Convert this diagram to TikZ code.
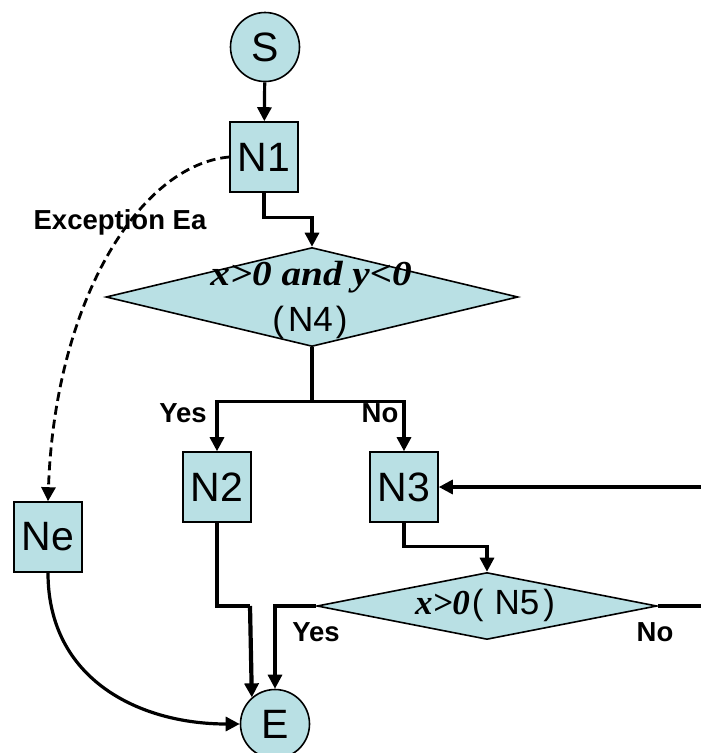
\documentclass[tikz,border=0pt]{standalone}
\usepackage{fontspec}
\usepackage{graphicx}
\setmainfont{Liberation Sans}
\newfontfamily\tnr{Liberation Serif}
\usetikzlibrary{shapes.geometric,arrows.meta,calc}
\definecolor{fillc}{RGB}{185,224,228}
\begin{document}
\begin{tikzpicture}[x=1pt,y=-1pt,
  box/.style={draw,fill=fillc,line width=1.6pt,minimum width=68pt,minimum height=70pt,inner sep=0pt,font=\fontsize{41}{43}\selectfont},
  circ/.style={circle,draw,fill=fillc,line width=1.6pt,minimum size=69pt,inner sep=0pt,font=\fontsize{41}{43}\selectfont},
  dia/.style={diamond,draw,fill=fillc,line width=1.6pt,inner sep=0pt},
  conn/.style={line width=3.2pt},
  arr/.style={conn,-{Triangle[length=14pt,width=14pt]}},
  lbl/.style={inner sep=0pt,font=\bfseries\fontsize{27.5}{29}\selectfont},
  dtxt/.style={inner sep=0pt,font=\fontsize{35}{37}\selectfont},
  ]
\useasboundingbox (0,0) rectangle (701,753);
% nodes
\node[circ] (S) at (265,47) {S};
\node[box] (N1) at (264,157) {N1};
\node[dia,minimum width=412pt,minimum height=99pt] (N4) at (312,297) {};
\node[dtxt] (N4a) at (311,277) {\scalebox{1.12}[1]{\tnr\bfseries\itshape x>0 and y<0}};
\node[dtxt] (N4b) at (310,322) {(\hspace{4pt}N4\hspace{3pt})};
\node[box] (N2) at (217,487) {N2};
\node[box] (N3) at (404,487) {N3};
\node[box] (Ne) at (48,537) {Ne};
\node[dia,minimum width=340pt,minimum height=67pt] (N5) at (487,606) {};
\node[dtxt] (N5a) at (485,605) {{\tnr\bfseries\itshape x>0}\hspace{2pt}(\hspace{11pt}N5\hspace{4pt})};
\node[circ] (E) at (275,724) {E};
% labels
\node[lbl] (lexc) at (120,222) {Exception Ea};
\node[lbl] (lyes1) at (183,413) {Yes};
\node[lbl] (lno1) at (380,413) {No};
\node[lbl] (lyes2) at (316,632) {Yes};
\node[lbl] (lno2) at (655,632) {No};
% free ends
\coordinate (rin) at (701,487);
\coordinate (rout) at (701,606);
% connectors
\draw[arr] (S) -- (N1);
\draw[arr] (N1.south) -- ++(0,25) -| (N4.north);
\draw[conn] (N4.south) -- ++(0,54) coordinate (split);
\draw[arr] (split) -| (N2.north);
\draw[arr] (split) -| (N3.north);
\draw[arr] (rin) -- (N3.east);
\draw[arr] (N3.south) -- ++(0,24) -| (N5.north);
\draw[arr] (N5.west) -| (E.north);
\draw[conn] (N5.east) -- (rout);
\draw[conn] (N2.south) |- (250,606) coordinate (k);
\draw[arr,line width=4.2pt] (k) -- (E.131);
\draw[arr] (Ne.south) .. controls (48,680) and (140,724) .. (E.west);
\draw[arr,line width=2.8pt,dash pattern=on 9pt off 5pt] (N1.west) .. controls (140,165) and (55,300) .. (Ne.north);
\end{tikzpicture}
\end{document}
